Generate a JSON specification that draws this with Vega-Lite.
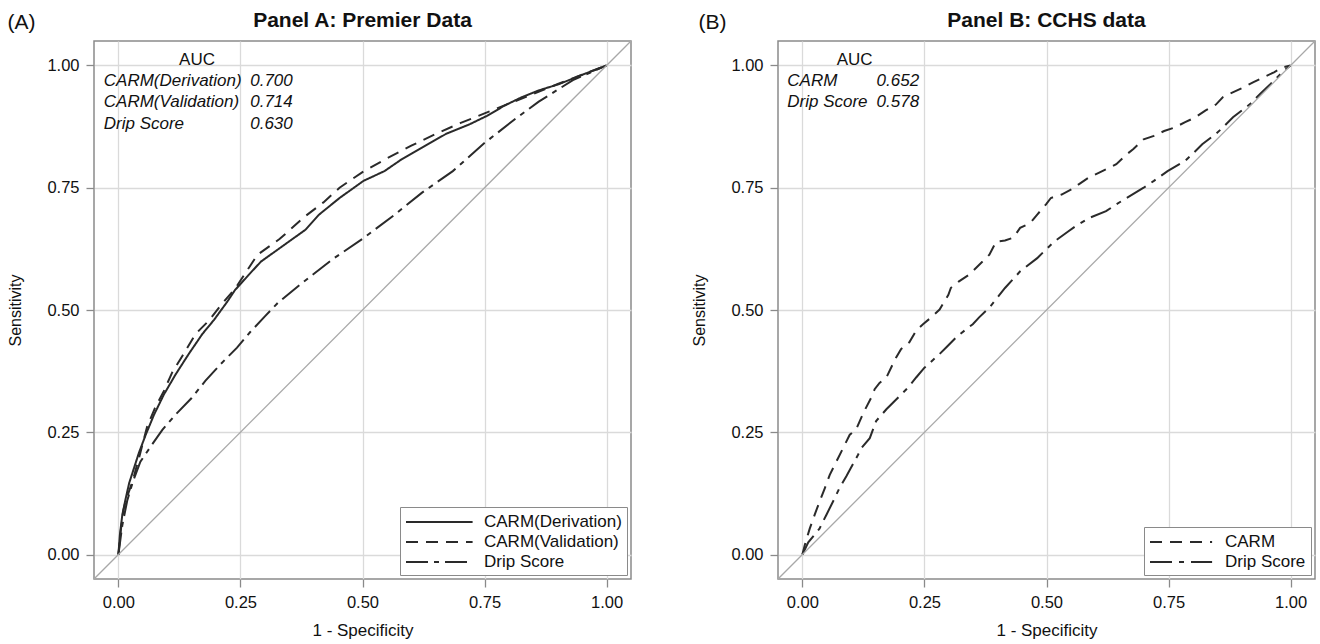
{
  "$schema": "https://vega.github.io/schema/vega-lite/v6.json",
  "padding": {"left": 6, "top": 9, "right": 5, "bottom": 0},
  "autosize": {"type": "pad"},
  "spacing": 58,
  "resolve": {"scale": {"strokeDash": "independent", "x": "independent", "y": "independent"}, "legend": {"strokeDash": "independent"}},
  "config": {
    "font": "Liberation Sans",
    "view": {"stroke": "#8a8a8a", "strokeWidth": 1.5},
    "axis": {
      "domain": false,
      "gridColor": "#dadada",
      "gridWidth": 1.3,
      "tickColor": "#8a8a8a",
      "tickWidth": 1.3,
      "tickSize": 8,
      "labelPadding": 7,
      "labelFontSize": 16.5,
      "labelColor": "#111111",
      "titleColor": "#111111",
      "titleFontWeight": "normal"
    },
    "title": {"fontSize": 21, "fontWeight": "bold", "color": "#111111", "offset": -19, "anchor": "middle"},
    "legend": {
      "title": null,
      "orient": "bottom-right",
      "offset": 4,
      "padding": 5,
      "strokeColor": "#8a8a8a",
      "fillColor": "white",
      "labelFontSize": 17,
      "labelColor": "#111111",
      "symbolSize": 324,
      "symbolStrokeWidth": 1.8,
      "symbolStrokeColor": "#2a2a2a",
      "rowPadding": 2,
      "labelLimit": 400
    }
  },
  "datasets": {
    "rocA": [
      {"series": "CARM(Derivation)", "fpr": 0, "tpr": 0},
      {"series": "CARM(Derivation)", "fpr": 0.003, "tpr": 0.04},
      {"series": "CARM(Derivation)", "fpr": 0.008, "tpr": 0.081},
      {"series": "CARM(Derivation)", "fpr": 0.015, "tpr": 0.115},
      {"series": "CARM(Derivation)", "fpr": 0.022, "tpr": 0.146},
      {"series": "CARM(Derivation)", "fpr": 0.032, "tpr": 0.177},
      {"series": "CARM(Derivation)", "fpr": 0.042, "tpr": 0.208},
      {"series": "CARM(Derivation)", "fpr": 0.056, "tpr": 0.245},
      {"series": "CARM(Derivation)", "fpr": 0.073, "tpr": 0.286},
      {"series": "CARM(Derivation)", "fpr": 0.093, "tpr": 0.327},
      {"series": "CARM(Derivation)", "fpr": 0.117, "tpr": 0.368},
      {"series": "CARM(Derivation)", "fpr": 0.144, "tpr": 0.41},
      {"series": "CARM(Derivation)", "fpr": 0.172, "tpr": 0.451},
      {"series": "CARM(Derivation)", "fpr": 0.196, "tpr": 0.48},
      {"series": "CARM(Derivation)", "fpr": 0.223, "tpr": 0.517},
      {"series": "CARM(Derivation)", "fpr": 0.239, "tpr": 0.541},
      {"series": "CARM(Derivation)", "fpr": 0.267, "tpr": 0.572},
      {"series": "CARM(Derivation)", "fpr": 0.292, "tpr": 0.599},
      {"series": "CARM(Derivation)", "fpr": 0.341, "tpr": 0.634},
      {"series": "CARM(Derivation)", "fpr": 0.383, "tpr": 0.664},
      {"series": "CARM(Derivation)", "fpr": 0.411, "tpr": 0.695},
      {"series": "CARM(Derivation)", "fpr": 0.453, "tpr": 0.729},
      {"series": "CARM(Derivation)", "fpr": 0.502, "tpr": 0.764},
      {"series": "CARM(Derivation)", "fpr": 0.545, "tpr": 0.784},
      {"series": "CARM(Derivation)", "fpr": 0.58, "tpr": 0.808},
      {"series": "CARM(Derivation)", "fpr": 0.622, "tpr": 0.832},
      {"series": "CARM(Derivation)", "fpr": 0.671, "tpr": 0.86},
      {"series": "CARM(Derivation)", "fpr": 0.72, "tpr": 0.88},
      {"series": "CARM(Derivation)", "fpr": 0.755, "tpr": 0.897},
      {"series": "CARM(Derivation)", "fpr": 0.791, "tpr": 0.918},
      {"series": "CARM(Derivation)", "fpr": 0.826, "tpr": 0.935},
      {"series": "CARM(Derivation)", "fpr": 0.861, "tpr": 0.949},
      {"series": "CARM(Derivation)", "fpr": 0.903, "tpr": 0.962},
      {"series": "CARM(Derivation)", "fpr": 0.945, "tpr": 0.979},
      {"series": "CARM(Derivation)", "fpr": 1, "tpr": 1},
      {"series": "CARM(Validation)", "fpr": 0, "tpr": 0},
      {"series": "CARM(Validation)", "fpr": 0.005, "tpr": 0.05},
      {"series": "CARM(Validation)", "fpr": 0.01, "tpr": 0.09},
      {"series": "CARM(Validation)", "fpr": 0.015, "tpr": 0.11},
      {"series": "CARM(Validation)", "fpr": 0.029, "tpr": 0.15},
      {"series": "CARM(Validation)", "fpr": 0.042, "tpr": 0.197},
      {"series": "CARM(Validation)", "fpr": 0.059, "tpr": 0.262},
      {"series": "CARM(Validation)", "fpr": 0.075, "tpr": 0.3},
      {"series": "CARM(Validation)", "fpr": 0.093, "tpr": 0.334},
      {"series": "CARM(Validation)", "fpr": 0.11, "tpr": 0.372},
      {"series": "CARM(Validation)", "fpr": 0.131, "tpr": 0.406},
      {"series": "CARM(Validation)", "fpr": 0.158, "tpr": 0.451},
      {"series": "CARM(Validation)", "fpr": 0.185, "tpr": 0.478},
      {"series": "CARM(Validation)", "fpr": 0.21, "tpr": 0.51},
      {"series": "CARM(Validation)", "fpr": 0.24, "tpr": 0.545},
      {"series": "CARM(Validation)", "fpr": 0.267, "tpr": 0.586},
      {"series": "CARM(Validation)", "fpr": 0.285, "tpr": 0.613},
      {"series": "CARM(Validation)", "fpr": 0.33, "tpr": 0.645},
      {"series": "CARM(Validation)", "fpr": 0.383, "tpr": 0.692},
      {"series": "CARM(Validation)", "fpr": 0.42, "tpr": 0.72},
      {"series": "CARM(Validation)", "fpr": 0.453, "tpr": 0.75},
      {"series": "CARM(Validation)", "fpr": 0.5, "tpr": 0.782},
      {"series": "CARM(Validation)", "fpr": 0.55, "tpr": 0.81},
      {"series": "CARM(Validation)", "fpr": 0.6, "tpr": 0.836},
      {"series": "CARM(Validation)", "fpr": 0.65, "tpr": 0.86},
      {"series": "CARM(Validation)", "fpr": 0.7, "tpr": 0.882},
      {"series": "CARM(Validation)", "fpr": 0.75, "tpr": 0.902},
      {"series": "CARM(Validation)", "fpr": 0.8, "tpr": 0.922},
      {"series": "CARM(Validation)", "fpr": 0.85, "tpr": 0.942},
      {"series": "CARM(Validation)", "fpr": 0.9, "tpr": 0.962},
      {"series": "CARM(Validation)", "fpr": 0.95, "tpr": 0.981},
      {"series": "CARM(Validation)", "fpr": 1, "tpr": 1},
      {"series": "Drip Score", "fpr": 0, "tpr": 0},
      {"series": "Drip Score", "fpr": 0.008, "tpr": 0.06},
      {"series": "Drip Score", "fpr": 0.018, "tpr": 0.11},
      {"series": "Drip Score", "fpr": 0.03, "tpr": 0.15},
      {"series": "Drip Score", "fpr": 0.045, "tpr": 0.19},
      {"series": "Drip Score", "fpr": 0.069, "tpr": 0.225},
      {"series": "Drip Score", "fpr": 0.09, "tpr": 0.255},
      {"series": "Drip Score", "fpr": 0.117, "tpr": 0.286},
      {"series": "Drip Score", "fpr": 0.15, "tpr": 0.32},
      {"series": "Drip Score", "fpr": 0.178, "tpr": 0.355},
      {"series": "Drip Score", "fpr": 0.21, "tpr": 0.39},
      {"series": "Drip Score", "fpr": 0.243, "tpr": 0.423},
      {"series": "Drip Score", "fpr": 0.27, "tpr": 0.455},
      {"series": "Drip Score", "fpr": 0.301, "tpr": 0.488},
      {"series": "Drip Score", "fpr": 0.327, "tpr": 0.515},
      {"series": "Drip Score", "fpr": 0.376, "tpr": 0.555},
      {"series": "Drip Score", "fpr": 0.439, "tpr": 0.604},
      {"series": "Drip Score", "fpr": 0.502, "tpr": 0.647},
      {"series": "Drip Score", "fpr": 0.566, "tpr": 0.695},
      {"series": "Drip Score", "fpr": 0.622, "tpr": 0.74},
      {"series": "Drip Score", "fpr": 0.685, "tpr": 0.784},
      {"series": "Drip Score", "fpr": 0.748, "tpr": 0.84},
      {"series": "Drip Score", "fpr": 0.812, "tpr": 0.89},
      {"series": "Drip Score", "fpr": 0.861, "tpr": 0.926},
      {"series": "Drip Score", "fpr": 0.931, "tpr": 0.97},
      {"series": "Drip Score", "fpr": 1, "tpr": 1}
    ],
    "rocB": [
      {"series": "CARM", "fpr": 0, "tpr": 0},
      {"series": "CARM", "fpr": 0.005, "tpr": 0.02},
      {"series": "CARM", "fpr": 0.015, "tpr": 0.053},
      {"series": "CARM", "fpr": 0.025, "tpr": 0.081},
      {"series": "CARM", "fpr": 0.035, "tpr": 0.108},
      {"series": "CARM", "fpr": 0.046, "tpr": 0.136},
      {"series": "CARM", "fpr": 0.056, "tpr": 0.163},
      {"series": "CARM", "fpr": 0.073, "tpr": 0.197},
      {"series": "CARM", "fpr": 0.087, "tpr": 0.225},
      {"series": "CARM", "fpr": 0.097, "tpr": 0.245},
      {"series": "CARM", "fpr": 0.11, "tpr": 0.256},
      {"series": "CARM", "fpr": 0.125, "tpr": 0.29},
      {"series": "CARM", "fpr": 0.141, "tpr": 0.321},
      {"series": "CARM", "fpr": 0.148, "tpr": 0.338},
      {"series": "CARM", "fpr": 0.158, "tpr": 0.351},
      {"series": "CARM", "fpr": 0.172, "tpr": 0.362},
      {"series": "CARM", "fpr": 0.185, "tpr": 0.389},
      {"series": "CARM", "fpr": 0.192, "tpr": 0.403},
      {"series": "CARM", "fpr": 0.202, "tpr": 0.42},
      {"series": "CARM", "fpr": 0.219, "tpr": 0.434},
      {"series": "CARM", "fpr": 0.233, "tpr": 0.458},
      {"series": "CARM", "fpr": 0.247, "tpr": 0.471},
      {"series": "CARM", "fpr": 0.264, "tpr": 0.485},
      {"series": "CARM", "fpr": 0.281, "tpr": 0.501},
      {"series": "CARM", "fpr": 0.299, "tpr": 0.531},
      {"series": "CARM", "fpr": 0.304, "tpr": 0.545},
      {"series": "CARM", "fpr": 0.32, "tpr": 0.558},
      {"series": "CARM", "fpr": 0.341, "tpr": 0.572},
      {"series": "CARM", "fpr": 0.369, "tpr": 0.599},
      {"series": "CARM", "fpr": 0.383, "tpr": 0.613},
      {"series": "CARM", "fpr": 0.397, "tpr": 0.64},
      {"series": "CARM", "fpr": 0.415, "tpr": 0.642},
      {"series": "CARM", "fpr": 0.432, "tpr": 0.648},
      {"series": "CARM", "fpr": 0.446, "tpr": 0.668},
      {"series": "CARM", "fpr": 0.467, "tpr": 0.678},
      {"series": "CARM", "fpr": 0.481, "tpr": 0.695},
      {"series": "CARM", "fpr": 0.499, "tpr": 0.716},
      {"series": "CARM", "fpr": 0.509, "tpr": 0.729},
      {"series": "CARM", "fpr": 0.531, "tpr": 0.736},
      {"series": "CARM", "fpr": 0.552, "tpr": 0.747},
      {"series": "CARM", "fpr": 0.566, "tpr": 0.757},
      {"series": "CARM", "fpr": 0.587, "tpr": 0.771},
      {"series": "CARM", "fpr": 0.608, "tpr": 0.781},
      {"series": "CARM", "fpr": 0.629, "tpr": 0.791},
      {"series": "CARM", "fpr": 0.643, "tpr": 0.798},
      {"series": "CARM", "fpr": 0.664, "tpr": 0.818},
      {"series": "CARM", "fpr": 0.678, "tpr": 0.829},
      {"series": "CARM", "fpr": 0.699, "tpr": 0.849},
      {"series": "CARM", "fpr": 0.72, "tpr": 0.856},
      {"series": "CARM", "fpr": 0.741, "tpr": 0.866},
      {"series": "CARM", "fpr": 0.762, "tpr": 0.873},
      {"series": "CARM", "fpr": 0.784, "tpr": 0.884},
      {"series": "CARM", "fpr": 0.805, "tpr": 0.894},
      {"series": "CARM", "fpr": 0.826, "tpr": 0.908},
      {"series": "CARM", "fpr": 0.847, "tpr": 0.92},
      {"series": "CARM", "fpr": 0.861, "tpr": 0.935},
      {"series": "CARM", "fpr": 0.875, "tpr": 0.942},
      {"series": "CARM", "fpr": 0.903, "tpr": 0.955},
      {"series": "CARM", "fpr": 0.924, "tpr": 0.966},
      {"series": "CARM", "fpr": 0.945, "tpr": 0.976},
      {"series": "CARM", "fpr": 0.966, "tpr": 0.986},
      {"series": "CARM", "fpr": 0.984, "tpr": 0.996},
      {"series": "CARM", "fpr": 1, "tpr": 1},
      {"series": "Drip Score", "fpr": 0, "tpr": 0},
      {"series": "Drip Score", "fpr": 0.012, "tpr": 0.025},
      {"series": "Drip Score", "fpr": 0.035, "tpr": 0.053},
      {"series": "Drip Score", "fpr": 0.049, "tpr": 0.081},
      {"series": "Drip Score", "fpr": 0.066, "tpr": 0.115},
      {"series": "Drip Score", "fpr": 0.076, "tpr": 0.136},
      {"series": "Drip Score", "fpr": 0.09, "tpr": 0.16},
      {"series": "Drip Score", "fpr": 0.114, "tpr": 0.204},
      {"series": "Drip Score", "fpr": 0.121, "tpr": 0.218},
      {"series": "Drip Score", "fpr": 0.138, "tpr": 0.238},
      {"series": "Drip Score", "fpr": 0.151, "tpr": 0.273},
      {"series": "Drip Score", "fpr": 0.172, "tpr": 0.297},
      {"series": "Drip Score", "fpr": 0.189, "tpr": 0.314},
      {"series": "Drip Score", "fpr": 0.216, "tpr": 0.341},
      {"series": "Drip Score", "fpr": 0.233, "tpr": 0.362},
      {"series": "Drip Score", "fpr": 0.25, "tpr": 0.382},
      {"series": "Drip Score", "fpr": 0.281, "tpr": 0.41},
      {"series": "Drip Score", "fpr": 0.298, "tpr": 0.427},
      {"series": "Drip Score", "fpr": 0.318, "tpr": 0.447},
      {"series": "Drip Score", "fpr": 0.349, "tpr": 0.471},
      {"series": "Drip Score", "fpr": 0.362, "tpr": 0.485},
      {"series": "Drip Score", "fpr": 0.383, "tpr": 0.505},
      {"series": "Drip Score", "fpr": 0.415, "tpr": 0.545},
      {"series": "Drip Score", "fpr": 0.446, "tpr": 0.579},
      {"series": "Drip Score", "fpr": 0.481, "tpr": 0.606},
      {"series": "Drip Score", "fpr": 0.495, "tpr": 0.62},
      {"series": "Drip Score", "fpr": 0.516, "tpr": 0.64},
      {"series": "Drip Score", "fpr": 0.545, "tpr": 0.661},
      {"series": "Drip Score", "fpr": 0.559, "tpr": 0.671},
      {"series": "Drip Score", "fpr": 0.587, "tpr": 0.688},
      {"series": "Drip Score", "fpr": 0.622, "tpr": 0.702},
      {"series": "Drip Score", "fpr": 0.643, "tpr": 0.716},
      {"series": "Drip Score", "fpr": 0.664, "tpr": 0.729},
      {"series": "Drip Score", "fpr": 0.699, "tpr": 0.75},
      {"series": "Drip Score", "fpr": 0.72, "tpr": 0.764},
      {"series": "Drip Score", "fpr": 0.748, "tpr": 0.784},
      {"series": "Drip Score", "fpr": 0.784, "tpr": 0.805},
      {"series": "Drip Score", "fpr": 0.798, "tpr": 0.818},
      {"series": "Drip Score", "fpr": 0.819, "tpr": 0.839},
      {"series": "Drip Score", "fpr": 0.847, "tpr": 0.86},
      {"series": "Drip Score", "fpr": 0.861, "tpr": 0.873},
      {"series": "Drip Score", "fpr": 0.882, "tpr": 0.894},
      {"series": "Drip Score", "fpr": 0.917, "tpr": 0.921},
      {"series": "Drip Score", "fpr": 0.938, "tpr": 0.942},
      {"series": "Drip Score", "fpr": 0.959, "tpr": 0.962},
      {"series": "Drip Score", "fpr": 0.987, "tpr": 0.99},
      {"series": "Drip Score", "fpr": 1, "tpr": 1}
    ]
  },
  "hconcat": [
    {
      "width": 537,
      "height": 538,
      "title": {"text": "Panel A: Premier Data"},
      "layer": [
        {
          "data": {"name": "rocA"},
          "mark": {"type": "line", "color": "#2a2a2a", "strokeWidth": 2},
          "encoding": {
            "x": {"field": "fpr", "type": "quantitative", "scale": {"domain": [-0.05, 1.05], "nice": false, "zero": false}, "axis": {"title": "1 - Specificity", "titleFontSize": 17, "titlePadding": 12, "values": [0, 0.25, 0.5, 0.75, 1], "format": ".2f"}},
            "y": {"field": "tpr", "type": "quantitative", "scale": {"domain": [-0.05, 1.05], "nice": false, "zero": false}, "axis": {"title": "Sensitivity", "titleFontSize": 16, "titlePadding": 23, "values": [0, 0.25, 0.5, 0.75, 1], "format": ".2f"}},
            "strokeDash": {
              "field": "series", "type": "nominal",
              "scale": {"domain": ["CARM(Derivation)", "CARM(Validation)", "Drip Score"], "range": [[1, 0], [12, 8], [22, 6, 5, 6]]},
              "legend": {"symbolType": "M-1,0H6.4", "labelOffset": 59}
            }
          }
        },
        {
          "data": {"values": [{}]},
          "mark": {"type": "rule", "color": "#a8a8a8", "strokeWidth": 1.3},
          "encoding": {
            "x": {"datum": -0.05, "type": "quantitative"},
            "y": {"datum": -0.05, "type": "quantitative"},
            "x2": {"datum": 1.05},
            "y2": {"datum": 1.05}
          }
        },
        {"data": {"values": [{}]}, "mark": {"type": "text", "text": "(A)", "fontSize": 21, "align": "left", "baseline": "middle", "color": "#111111"}, "encoding": {"x": {"datum": -0.227, "type": "quantitative"}, "y": {"datum": 1.086, "type": "quantitative"}}},
        {"data": {"values": [{}]}, "mark": {"type": "text", "text": "AUC", "fontSize": 17, "align": "center", "baseline": "middle", "color": "#111111"}, "encoding": {"x": {"datum": 0.161, "type": "quantitative"}, "y": {"datum": 1.012, "type": "quantitative"}}},
        {"data": {"values": [{}]}, "mark": {"type": "text", "text": "CARM(Derivation)", "fontSize": 17, "fontStyle": "italic", "align": "left", "baseline": "middle", "color": "#111111"}, "encoding": {"x": {"datum": -0.03, "type": "quantitative"}, "y": {"datum": 0.969, "type": "quantitative"}}},
        {"data": {"values": [{}]}, "mark": {"type": "text", "text": "CARM(Validation)", "fontSize": 17, "fontStyle": "italic", "align": "left", "baseline": "middle", "color": "#111111"}, "encoding": {"x": {"datum": -0.03, "type": "quantitative"}, "y": {"datum": 0.925, "type": "quantitative"}}},
        {"data": {"values": [{}]}, "mark": {"type": "text", "text": "Drip Score", "fontSize": 17, "fontStyle": "italic", "align": "left", "baseline": "middle", "color": "#111111"}, "encoding": {"x": {"datum": -0.03, "type": "quantitative"}, "y": {"datum": 0.881, "type": "quantitative"}}},
        {"data": {"values": [{}]}, "mark": {"type": "text", "text": "0.700", "fontSize": 17, "fontStyle": "italic", "align": "left", "baseline": "middle", "color": "#111111"}, "encoding": {"x": {"datum": 0.27, "type": "quantitative"}, "y": {"datum": 0.969, "type": "quantitative"}}},
        {"data": {"values": [{}]}, "mark": {"type": "text", "text": "0.714", "fontSize": 17, "fontStyle": "italic", "align": "left", "baseline": "middle", "color": "#111111"}, "encoding": {"x": {"datum": 0.27, "type": "quantitative"}, "y": {"datum": 0.925, "type": "quantitative"}}},
        {"data": {"values": [{}]}, "mark": {"type": "text", "text": "0.630", "fontSize": 17, "fontStyle": "italic", "align": "left", "baseline": "middle", "color": "#111111"}, "encoding": {"x": {"datum": 0.27, "type": "quantitative"}, "y": {"datum": 0.881, "type": "quantitative"}}}
      ]
    },
    {
      "width": 537,
      "height": 538,
      "title": {"text": "Panel B: CCHS data"},
      "layer": [
        {
          "data": {"name": "rocB"},
          "mark": {"type": "line", "color": "#2a2a2a", "strokeWidth": 2},
          "encoding": {
            "x": {"field": "fpr", "type": "quantitative", "scale": {"domain": [-0.05, 1.05], "nice": false, "zero": false}, "axis": {"title": "1 - Specificity", "titleFontSize": 17, "titlePadding": 12, "values": [0, 0.25, 0.5, 0.75, 1], "format": ".2f"}},
            "y": {"field": "tpr", "type": "quantitative", "scale": {"domain": [-0.05, 1.05], "nice": false, "zero": false}, "axis": {"title": "Sensitivity", "titleFontSize": 16, "titlePadding": 23, "values": [0, 0.25, 0.5, 0.75, 1], "format": ".2f"}},
            "strokeDash": {
              "field": "series", "type": "nominal",
              "scale": {"domain": ["CARM", "Drip Score"], "range": [[12, 8], [22, 7, 5, 7]]},
              "legend": {"symbolType": "M-1,0H5.9", "labelOffset": 56}
            }
          }
        },
        {
          "data": {"values": [{}]},
          "mark": {"type": "rule", "color": "#a8a8a8", "strokeWidth": 1.3},
          "encoding": {
            "x": {"datum": -0.05, "type": "quantitative"},
            "y": {"datum": -0.05, "type": "quantitative"},
            "x2": {"datum": 1.05},
            "y2": {"datum": 1.05}
          }
        },
        {"data": {"values": [{}]}, "mark": {"type": "text", "text": "(B)", "fontSize": 21, "align": "left", "baseline": "middle", "color": "#111111"}, "encoding": {"x": {"datum": -0.213, "type": "quantitative"}, "y": {"datum": 1.086, "type": "quantitative"}}},
        {"data": {"values": [{}]}, "mark": {"type": "text", "text": "AUC", "fontSize": 17, "align": "center", "baseline": "middle", "color": "#111111"}, "encoding": {"x": {"datum": 0.107, "type": "quantitative"}, "y": {"datum": 1.012, "type": "quantitative"}}},
        {"data": {"values": [{}]}, "mark": {"type": "text", "text": "CARM", "fontSize": 17, "fontStyle": "italic", "align": "left", "baseline": "middle", "color": "#111111"}, "encoding": {"x": {"datum": -0.031, "type": "quantitative"}, "y": {"datum": 0.969, "type": "quantitative"}}},
        {"data": {"values": [{}]}, "mark": {"type": "text", "text": "Drip Score", "fontSize": 17, "fontStyle": "italic", "align": "left", "baseline": "middle", "color": "#111111"}, "encoding": {"x": {"datum": -0.031, "type": "quantitative"}, "y": {"datum": 0.925, "type": "quantitative"}}},
        {"data": {"values": [{}]}, "mark": {"type": "text", "text": "0.652", "fontSize": 17, "fontStyle": "italic", "align": "left", "baseline": "middle", "color": "#111111"}, "encoding": {"x": {"datum": 0.152, "type": "quantitative"}, "y": {"datum": 0.969, "type": "quantitative"}}},
        {"data": {"values": [{}]}, "mark": {"type": "text", "text": "0.578", "fontSize": 17, "fontStyle": "italic", "align": "left", "baseline": "middle", "color": "#111111"}, "encoding": {"x": {"datum": 0.152, "type": "quantitative"}, "y": {"datum": 0.925, "type": "quantitative"}}}
      ]
    }
  ]
}
